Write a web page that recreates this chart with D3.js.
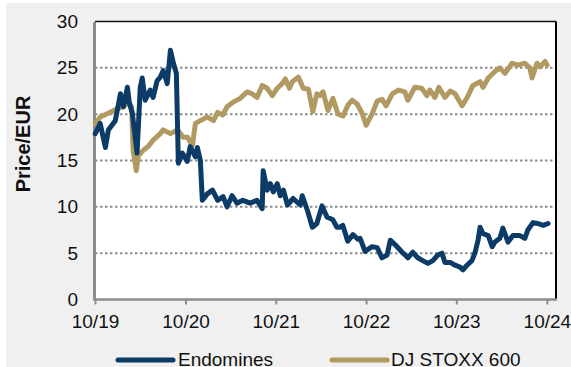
<!DOCTYPE html>
<html><head><meta charset="utf-8">
<script src="https://cdn.jsdelivr.net/npm/d3@7"></script>
<style>
html,body{margin:0;padding:0;background:#fff;}
svg{display:block;}
text{font-family:"Liberation Sans",Arial,sans-serif;fill:#111;}
</style></head>
<body>
<script>
const endoDates = ["2019-10-02","2019-10-22","2019-11-12","2019-11-24","2019-12-22","2020-01-12","2020-01-24","2020-02-09","2020-02-17","2020-02-29","2020-03-19","2020-04-01","2020-04-09","2020-04-21","2020-05-11","2020-05-23","2020-06-08","2020-06-21","2020-07-03","2020-07-19","2020-08-01","2020-08-13","2020-08-25","2020-09-02","2020-09-18","2020-10-08","2020-10-20","2020-11-10","2020-11-18","2020-11-30","2020-12-08","2020-12-28","2021-01-18","2021-02-08","2021-03-02","2021-03-18","2021-04-07","2021-04-27","2021-05-21","2021-06-19","2021-07-17","2021-08-07","2021-08-11","2021-08-27","2021-09-09","2021-09-21","2021-10-07","2021-10-19","2021-11-01","2021-11-17","2021-12-10","2022-01-08","2022-01-16","2022-02-06","2022-02-26","2022-03-16","2022-04-06","2022-04-26","2022-05-20","2022-06-05","2022-06-17","2022-06-29","2022-07-07","2022-07-19","2022-08-09","2022-08-29","2022-09-07","2022-09-27","2022-10-25","2022-11-15","2022-12-04","2022-12-25","2023-01-07","2023-01-27","2023-02-24","2023-03-19","2023-04-08","2023-04-28","2023-05-18","2023-06-08","2023-06-28","2023-07-18","2023-08-04","2023-08-16","2023-09-06","2023-09-26","2023-10-16","2023-10-28","2023-11-13","2023-12-03","2023-12-16","2023-12-28","2024-01-05","2024-01-17","2024-02-07","2024-02-23","2024-03-05","2024-03-25","2024-04-06","2024-04-27","2024-05-17","2024-06-14","2024-07-04","2024-07-16","2024-08-06","2024-08-26","2024-09-16","2024-10-06"];
const endoValues = [17.9,19.0,16.4,18.3,19.3,22.2,20.8,22.9,21.2,20.1,15.8,22.9,23.9,21.5,22.6,21.8,23.6,24.0,24.7,23.3,26.9,25.5,24.4,14.7,15.8,14.9,16.5,15.4,16.4,15.0,10.7,11.4,11.8,10.7,11.1,10.0,11.2,10.4,10.7,10.4,10.7,9.8,13.9,11.8,12.5,11.6,12.5,11.2,11.8,10.2,10.9,10.2,11.2,9.6,7.8,8.2,10.1,8.9,8.6,7.8,7.8,8.0,7.3,6.3,7.0,6.5,6.6,5.2,5.7,5.6,4.5,4.8,6.4,5.9,5.1,4.5,5.1,4.5,4.2,3.9,4.2,4.8,5.0,4.0,4.0,3.7,3.5,3.2,3.7,4.2,5.1,6.4,7.8,7.1,6.9,5.7,6.2,6.6,7.7,6.2,6.9,6.9,6.6,7.5,8.3,8.2,8.0,8.2];

const stoxxDates = ["2019-10-02","2019-10-22","2019-12-02","2019-12-30","2020-01-24","2020-02-14","2020-02-26","2020-03-03","2020-03-16","2020-03-24","2020-04-13","2020-05-03","2020-05-23","2020-06-21","2020-07-03","2020-08-01","2020-08-29","2020-09-22","2020-10-09","2020-10-29","2020-11-10","2020-11-30","2020-12-28","2021-01-22","2021-02-08","2021-02-28","2021-03-18","2021-04-12","2021-05-10","2021-06-07","2021-06-27","2021-07-17","2021-08-07","2021-08-27","2021-09-17","2021-10-07","2021-10-27","2021-11-09","2021-11-25","2021-12-07","2021-12-31","2022-01-20","2022-02-10","2022-02-28","2022-03-16","2022-03-28","2022-04-10","2022-04-30","2022-05-20","2022-06-10","2022-06-30","2022-07-20","2022-08-06","2022-08-26","2022-09-15","2022-10-01","2022-10-25","2022-11-15","2022-12-05","2022-12-21","2023-01-15","2023-02-09","2023-03-07","2023-03-19","2023-04-16","2023-05-14","2023-06-04","2023-06-16","2023-07-06","2023-07-22","2023-08-16","2023-09-06","2023-09-26","2023-10-24","2023-11-14","2023-12-07","2024-01-05","2024-01-17","2024-02-07","2024-03-05","2024-03-25","2024-04-15","2024-05-13","2024-06-06","2024-07-04","2024-07-24","2024-08-02","2024-08-22","2024-09-04","2024-09-24","2024-10-02"];
const stoxxValues = [19.0,19.7,20.2,20.6,20.8,21.3,20.8,16.1,13.9,15.5,16.1,16.5,17.2,17.9,18.3,17.9,18.3,17.5,17.5,16.6,19.0,19.3,19.7,19.3,20.2,19.9,20.8,21.3,21.7,22.4,22.2,21.8,23.1,22.8,22.0,22.8,23.3,23.8,22.8,23.5,24.0,22.8,22.7,20.3,22.2,22.0,22.4,20.4,21.7,20.0,19.8,21.0,21.5,21.1,20.1,18.8,20.0,21.4,21.6,20.9,22.2,22.6,22.4,21.5,22.9,22.8,22.0,22.6,21.8,22.9,21.8,22.5,22.2,20.9,21.8,23.1,23.5,22.9,23.9,24.6,25.0,24.4,25.5,25.3,25.5,25.0,23.9,25.5,25.1,25.7,25.3];

const yTicks = [0,5,10,15,20,25,30];
const xTickDates = ["2019-10-01","2020-10-01","2021-10-01","2022-10-01","2023-10-01","2024-10-01"];
const xTickLabels = ["10/19","10/20","10/21","10/22","10/23","10/24"];
const seriesNames = ["Endomines","DJ STOXX 600"];
const seriesColors = ["#0b3b66","#b09a62"];

const W = 571, H = 367;
const parse = d3.timeParse("%Y-%m-%d");
const m = {left:95, right:556, top:21.5, bottom:299.5};

const svg = d3.select("body").append("svg").attr("width",W).attr("height",H);
svg.append("rect").attr("x",6).attr("y",3).attr("width",W-6).attr("height",H-3).attr("fill","#f0f0f0");

const x = d3.scaleTime().domain([parse("2019-10-01"), parse("2024-11-07")]).range([m.left, m.right]);
const y = d3.scaleLinear().domain([0,30]).range([m.bottom, m.top]);

svg.append("rect").attr("x",m.left).attr("y",m.top).attr("width",m.right-m.left).attr("height",m.bottom-m.top).attr("fill","#fff");

// gridlines
svg.append("g").selectAll("line").data(yTicks.filter(d=>d>0 && d<30)).join("line")
  .attr("x1",m.left).attr("x2",m.right).attr("y1",d=>y(d)).attr("y2",d=>y(d))
  .attr("stroke","#8c8c8c").attr("stroke-width",2).attr("stroke-dasharray","2.5,2.5");

// frame top/right
svg.append("line").attr("x1",m.left).attr("x2",m.right).attr("y1",m.top).attr("y2",m.top).attr("stroke","#111").attr("stroke-width",1.5);
svg.append("line").attr("x1",m.right).attr("x2",m.right).attr("y1",m.top).attr("y2",m.bottom).attr("stroke","#000").attr("stroke-width",2);

// y axis
const yAxis = d3.axisLeft(y).tickValues(yTicks).tickSize(0).tickPadding(16).tickFormat(d3.format("d"));
const gy = svg.append("g").attr("transform",`translate(${m.left-1},0)`).call(yAxis);
gy.select(".domain").attr("stroke","#8c8c8c").attr("stroke-width",3);
gy.selectAll("text").attr("font-size",19).attr("font-family","Liberation Sans, Arial, sans-serif").attr("fill","#111");

// x axis
const xAxis = d3.axisBottom(x).tickValues(xTickDates.map(parse)).tickSize(5).tickPadding(10)
  .tickFormat((d,i)=>xTickLabels[i]);
const gx = svg.append("g").attr("transform",`translate(0,${m.bottom})`).call(xAxis);
gx.select(".domain").attr("stroke","#8c8c8c").attr("stroke-width",2.5).attr("d",`M${m.left-2},0H${m.right+1}`);
gx.selectAll(".tick line").attr("stroke","#8c8c8c").attr("stroke-width",2);
gx.selectAll("text").attr("font-size",19).attr("font-family","Liberation Sans, Arial, sans-serif").attr("fill","#111");

// lines
const line = d3.line().x(d=>x(d[0])).y(d=>y(d[1])).curve(d3.curveLinear);
const stoxx = stoxxDates.map((d,i)=>[parse(d), stoxxValues[i]]);
const endo = endoDates.map((d,i)=>[parse(d), endoValues[i]]);
svg.append("path").datum(stoxx).attr("d",line).attr("fill","none").attr("stroke",seriesColors[1]).attr("stroke-width",5).attr("stroke-linejoin","round").attr("stroke-linecap","round");
svg.append("path").datum(endo).attr("d",line).attr("fill","none").attr("stroke",seriesColors[0]).attr("stroke-width",5).attr("stroke-linejoin","round").attr("stroke-linecap","round");

// y label
svg.append("text").attr("transform","translate(30,144) rotate(-90)").attr("text-anchor","middle")
  .attr("font-size",20).attr("font-weight","bold").text("Price/EUR");

// legend
const leg = [{x1:118,x2:173,tx:178},{x1:332,x2:387,tx:391}];
leg.forEach((l,i)=>{
  svg.append("line").attr("x1",l.x1).attr("x2",l.x2).attr("y1",360).attr("y2",360)
    .attr("stroke",seriesColors[i]).attr("stroke-width",5).attr("stroke-linecap","round");
  svg.append("text").attr("x",l.tx).attr("y",366).attr("font-size",19).text(seriesNames[i]);
});
</script>
</body></html>
